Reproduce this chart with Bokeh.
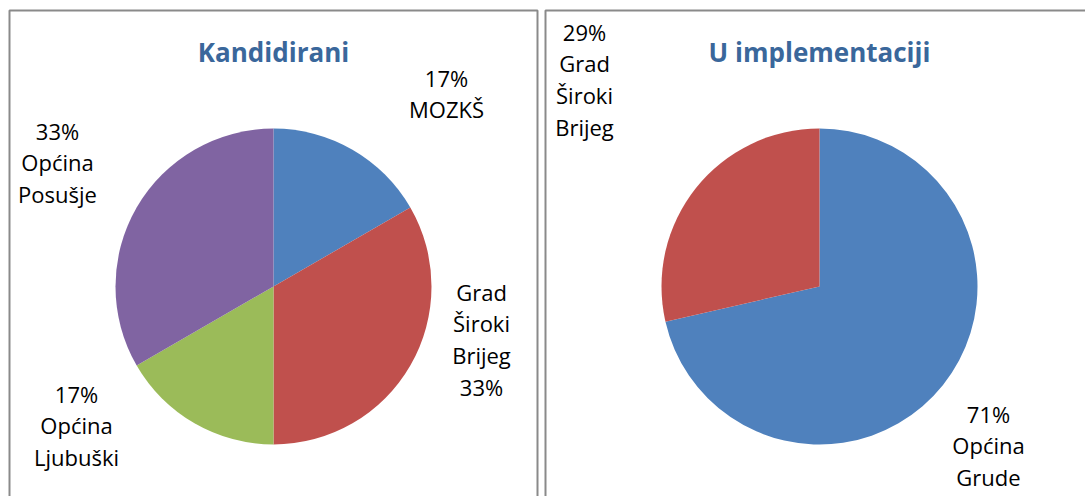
import math
from bokeh.plotting import figure
from bokeh.models import Range1d, ColumnDataSource
from bokeh.core.properties import value
from bokeh.embed import file_html
from bokeh.resources import INLINE

# ---------------- data ----------------
left_title = "Kandidirani"
left_categories = ["MOZKŠ", "Grad Široki Brijeg", "Općina Ljubuški", "Općina Posušje"]
left_values = [1, 2, 1, 2]

right_title = "U implementaciji"
right_categories = ["Općina Grude", "Grad Široki Brijeg"]
right_values = [5, 2]

# ---------------- styles / layout ----------------
W, H = 1085, 496
PAGE_TOP = 496  # image y -> data y : data_y = PAGE_TOP - img_y
left_colors = ["#4F81BD", "#C0504D", "#9BBB59", "#8064A2"]
right_colors = ["#4F81BD", "#C0504D"]
TITLE_COLOR = "#3A679B"
FONT = "Open Sans"
RADIUS = 158
left_center = (273, 286)
right_center = (819, 286)
# label anchors (image x centre, first-line baseline image y), percent-first flag
left_label_pos = [(446, 77), (481, 291), (76, 393), (57, 130)]
left_pct_first = [True, False, True, True]
right_label_pos = [(988, 413), (584, 31)]
right_pct_first = [True, True]
LINE_STEP = 31.8
TITLE_BASELINE = 51


def dy(img_y):
    return PAGE_TOP - img_y


p = figure(width=W, height=H, x_range=Range1d(0, W), y_range=Range1d(0, H),
           output_backend="svg", toolbar_location=None, min_border=0,
           x_axis_location=None, y_axis_location=None)
p.grid.visible = False
p.outline_line_color = None
p.background_fill_color = "white"
p.border_fill_color = "white"

# panel borders
p.multi_line(xs=[[9, 9, 537, 537], [545, 545, 1100]],
             ys=[[-20, dy(10), dy(10), -20], [-20, dy(10), dy(10)]],
             line_color="#8A8A8A", line_width=2)


def draw_pie(values, colors, center, labels, label_pos, pct_first, title):
    total = float(sum(values))
    c0s, c1s = [], []
    acc = 0.0
    for v in values:
        c0s.append(acc)
        acc += v / total * 360.0
        c1s.append(acc)
    src = ColumnDataSource(dict(
        x=[center[0]] * len(values),
        y=[dy(center[1])] * len(values),
        start=[math.radians(90 - c1) for c1 in c1s],
        end=[math.radians(90 - c0) for c0 in c0s],
        color=colors,
    ))
    p.wedge(x="x", y="y", radius=RADIUS, start_angle="start", end_angle="end",
            fill_color="color", line_color=None, source=src)

    tx, ty, tt = [], [], []
    for v, name, pos, pf in zip(values, labels, label_pos, pct_first):
        pct = "%d%%" % round(v / total * 100)
        words = name.split(" ")
        lines = [pct] + words if pf else words + [pct]
        for i, ln in enumerate(lines):
            tx.append(pos[0])
            ty.append(dy(pos[1] + i * LINE_STEP))
            tt.append(ln)
    p.text(x=tx, y=ty, text=tt, text_align="center", text_baseline="alphabetic",
           text_font=value(FONT), text_font_size="22px", text_color="black")

    p.text(x=[center[0]], y=[dy(TITLE_BASELINE)], text=[title], text_align="center",
           text_baseline="alphabetic", text_font=value(FONT), text_font_size="26px",
           text_font_style="bold", text_color=TITLE_COLOR)


draw_pie(left_values, left_colors, left_center, left_categories, left_label_pos,
         left_pct_first, left_title)
draw_pie(right_values, right_colors, right_center, right_categories, right_label_pos,
         right_pct_first, right_title)

open("out.html", "w").write(file_html(p, INLINE))
